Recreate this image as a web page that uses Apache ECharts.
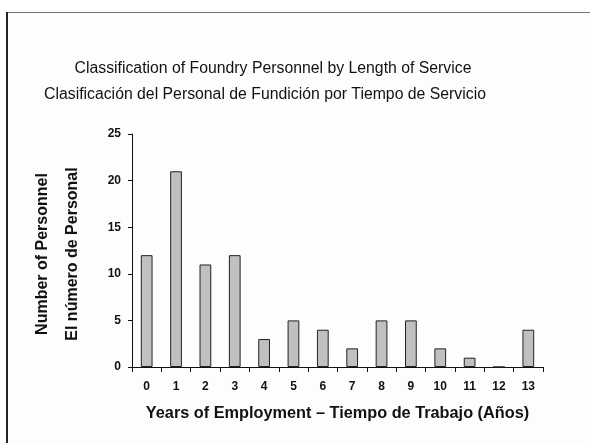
<!DOCTYPE html>
<html><head><meta charset="utf-8">
<script src="https://cdn.jsdelivr.net/npm/echarts@6/dist/echarts.min.js"></script>
<style>html,body{margin:0;padding:0;background:#fff}#c{width:590px;height:443px}</style>
</head><body><div id="c"></div>
<script>
const categories = ['0','1','2','3','4','5','6','7','8','9','10','11','12','13'];
const personnel = [12, 21, 11, 12, 3, 5, 4, 2, 5, 5, 2, 1, 0, 4];
const yTicks = [0, 5, 10, 15, 20, 25];
const titleLines = ['Classification of Foundry Personnel by Length of Service', 'Clasificación del Personal de Fundición por Tiempo de Servicio'];
const yNames = ['Number of Personnel', 'El número de Personal'];
const xName = 'Years of Employment – Tiempo de Trabajo (Años)';

const chart = echarts.init(document.getElementById('c'), null, {renderer: 'canvas'});
const F = 'Liberation Sans, Arial, sans-serif';
chart.setOption({
  animation: false,
  backgroundColor: '#ffffff',
  graphic: [
    {type: 'rect', left: 6, top: 12, shape: {width: 600, height: 450}, style: {fill: '#fdfdfd', stroke: null}, z: -10},
    {type: 'line', shape: {x1: 6, y1: 12.5, x2: 590, y2: 12.5}, style: {stroke: '#777', lineWidth: 1}, z: -9},
    {type: 'line', shape: {x1: 7, y1: 12, x2: 7, y2: 443}, style: {stroke: '#222', lineWidth: 2}, z: -9},
    {type: 'text', x: 273, y: 69, style: {text: titleLines[0], font: '15.8px ' + F, fill: '#111', align: 'center', verticalAlign: 'middle'}},
    {type: 'text', x: 265, y: 95, style: {text: titleLines[1], font: '15.8px ' + F, fill: '#111', align: 'center', verticalAlign: 'middle'}},
    {type: 'text', x: 43, y: 254, rotation: Math.PI/2, style: {text: yNames[0], font: 'bold 16px ' + F, fill: '#111', align: 'center', verticalAlign: 'middle'}},
    {type: 'text', x: 73, y: 254, rotation: Math.PI/2, style: {text: yNames[1], font: 'bold 16px ' + F, fill: '#111', align: 'center', verticalAlign: 'middle'}}
  ],
  grid: {left: 132, right: 47, top: 134, bottom: 76, containLabel: false},
  xAxis: {
    type: 'category', data: categories,
    name: xName, nameLocation: 'middle', nameGap: 39,
    nameTextStyle: {fontFamily: F, fontSize: 16.3, fontWeight: 'bold', color: '#111'},
    axisLine: {lineStyle: {color: '#111', width: 1}},
    axisTick: {show: true, alignWithLabel: false, length: 5, lineStyle: {color: '#111'}},
    axisLabel: {fontFamily: F, fontSize: 12, fontWeight: 'bold', color: '#111', margin: 14}
  },
  yAxis: {
    type: 'value', min: 0, max: 25, interval: 5,
    axisLine: {show: true, lineStyle: {color: '#111', width: 1}},
    axisTick: {show: true, length: 4, lineStyle: {color: '#111'}},
    splitLine: {show: false},
    axisLabel: {fontFamily: F, fontSize: 12, fontWeight: 'bold', color: '#111', margin: 11,
      formatter: v => yTicks.includes(v) ? String(v) : ''}
  },
  series: [{
    type: 'bar', data: personnel, barWidth: '40%',
    itemStyle: {color: '#c0c0c0', borderColor: '#222', borderWidth: 1}
  }]
});
</script></body></html>
